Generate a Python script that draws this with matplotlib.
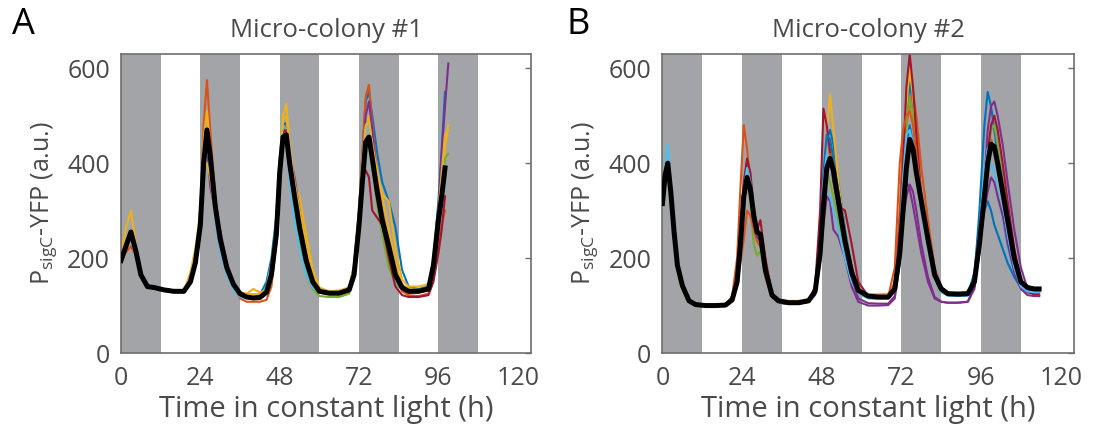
import numpy as np
import matplotlib
matplotlib.use("Agg")
import matplotlib.pyplot as plt

NA = np.nan

plt.rcParams["font.family"] = ["Open Sans", "DejaVu Sans"]
plt.rcParams["mathtext.fontset"] = "custom"
plt.rcParams["mathtext.rm"] = "Open Sans"
plt.rcParams["mathtext.it"] = "Open Sans:italic"

# subjective night intervals (h)
night_starts = [0, 24, 48, 72, 96]
night_len = 12

# ---- micro-colony #1 ----
t_a = [0, 1.5, 3, 4.5, 6, 8, 10, 13, 16, 19,
       21, 22.5, 24, 25, 26, 27, 28.5, 30, 32, 34,
       36, 38, 40, 42, 44, 45.5, 47, 48, 49, 50,
       51, 52.5, 54, 56, 58, 60, 63, 66, 69, 70.5,
       72, 73, 74, 75, 76, 77.5, 79, 81, 83, 85,
       87, 90, 93, 94.5, 96, 97, 98, 99]

mean_a = [195, 225, 255, 215, 165, 140, 138, 133, 130, 130,
          150, 190, 270, 400, 470, 415, 310, 240, 180, 145,
          125, 118, 116, 117, 128, 165, 250, 380, 455, 460,
          400, 330, 265, 195, 150, 130, 126, 126, 133, 165,
          270, 360, 445, 455, 410, 340, 280, 225, 165, 138,
          130, 130, 135, 185, 280, 330, 390, NA]

yellow_a = [205, 265, 300, 230, 160, 140, 138, 133, 130, 130,
            160, 210, 290, 450, 510, 430, 320, 245, 185, 148,
            128, 125, 135, 128, 130, 160, 245, 390, 500, 525,
            440, 350, 330, 250, 175, 138, 130, 132, 138, 170,
            280, 380, 470, 500, 450, 380, 335, 320, 220, 155,
            140, 140, 145, 190, 290, 360, 430, 480]

orange_a = [200, 212, 225, 205, 160, 140, 138, 133, 130, 130,
            155, 200, 300, 480, 575, 470, 330, 250, 180, 140,
            115, 108, 108, 108, 112, 140, 235, 380, 465, 480,
            420, 340, 270, 200, 150, 128, 124, 124, 130, 170,
            300, 420, 540, 565, 480, 380, 300, 230, 160, 130,
            122, 120, 125, 165, 230, 270, 300, NA]

blue_a = [NA, NA, NA, NA, NA, NA, NA, NA, NA, 130,
          150, 190, 265, 390, 455, 400, 300, 235, 178, 142,
          122, 118, 118, 122, 150, 200, 290, 410, 480, 485,
          420, 350, 295, 235, 170, 135, 128, 128, 138, 185,
          300, 420, 530, 550, 500, 420, 360, 320, 265, 175,
          140, 135, 140, 200, 320, 430, 550, NA]

purple_a = [NA, NA, NA, NA, NA, NA, NA, NA, NA, 130,
            150, 185, 260, 380, 440, 350, 300, 260, 190, 145,
            122, 116, 115, 116, 126, 160, 245, 380, 470, 470,
            420, 370, 300, 210, 155, 130, 125, 125, 130, 165,
            270, 380, 500, 530, 470, 360, 290, 230, 165, 135,
            128, 128, 132, 180, 300, 420, 520, 610]

green_a = [NA, NA, NA, NA, NA, NA, NA, NA, NA, 130,
           148, 185, 255, 380, 445, 390, 290, 225, 170, 138,
           120, 117, 116, 117, 125, 155, 235, 360, 445, 450,
           380, 300, 230, 165, 135, 120, 118, 118, 125, 155,
           250, 350, 420, 440, 390, 310, 250, 180, 145, 135,
           130, 130, 135, 175, 270, 340, 410, 420]

cyan_a = [NA, NA, NA, NA, NA, NA, NA, NA, NA, 130,
          148, 185, 260, 390, 460, 390, 280, 215, 165, 135,
          118, 116, 116, 120, 140, 190, 280, 400, 480, 470,
          360, 280, 220, 165, 138, 128, 125, 125, 132, 170,
          280, 390, 470, 480, 440, 360, 290, 215, 150, 135,
          130, 130, 134, 180, 270, 320, 360, NA]

red_a = [NA, NA, NA, NA, NA, NA, NA, NA, NA, 130,
         150, 188, 262, 395, 465, 400, 305, 238, 180, 145,
         122, 117, 116, 118, 128, 170, 260, 390, 465, 470,
         410, 330, 260, 190, 148, 130, 126, 126, 132, 170,
         290, 370, 385, 370, 300, 285, 270, 200, 140, 122,
         118, 118, 122, 150, 210, 260, 330, NA]

yellow2_a = [NA, NA, NA, NA, NA, NA, NA, NA, NA, 130,
             170, 220, 300, 390, 400, 370, 290, 235, 185, 148,
             128, 124, 124, 125, 135, 180, 270, 400, 490, 500,
             430, 360, 300, 230, 165, 135, 128, 130, 137, 185,
             300, 410, 480, 490, 440, 380, 330, 260, 190, 145,
             135, 133, 136, 190, 300, 380, 460, 470]

# ---- micro-colony #2 ----
t_b = [0, 0.8, 1.6, 2.5, 3.5, 4.5, 6, 8, 10, 13,
       16, 19, 21, 22.5, 23.5, 24.5, 25.5, 26.5, 27.5, 28.5,
       29.5, 31, 33, 35, 38, 41, 44, 46, 47.5, 48.5,
       49.5, 50.5, 51.5, 53, 55, 57, 59, 62, 65, 68,
       70, 71.5, 72.5, 73.5, 74.5, 75.5, 76.5, 78, 80, 82,
       84, 86, 89, 92, 94, 95.5, 97, 98, 99, 100,
       101, 102.5, 104, 106, 108, 110, 112, 113.5]

mean_b = [315, 375, 400, 340, 255, 185, 142, 110, 102, 100,
          100, 101, 112, 150, 230, 330, 370, 345, 290, 255,
          250, 175, 122, 110, 106, 106, 110, 130, 210, 310,
          390, 410, 385, 320, 235, 170, 132, 120, 118, 118,
          135, 210, 300, 390, 450, 430, 380, 320, 240, 165,
          135, 125, 124, 125, 150, 230, 330, 400, 440, 435,
          400, 340, 280, 200, 150, 138, 135, 135]

cyan_b = [320, 390, 440, 350, 260, 190, 145, 112, 103, 100,
          100, 101, 112, 148, 225, 320, 360, 340, 300, 265,
          240, 170, 120, 106, 104, 104, 108, 126, 220, 330,
          340, 330, 300, 260, 200, 150, 125, 115, 114, 114,
          130, 230, 350, 440, 470, 430, 370, 300, 220, 160,
          130, 122, 122, 124, 150, 240, 300, 380, 400, 380,
          340, 280, 220, 165, 135, 128, 128, 128]

orange_b = [NA, NA, NA, NA, NA, NA, NA, NA, NA, NA,
            NA, 101, 120, 200, 350, 480, 430, 350, 290, 250,
            230, 160, 118, 106, 104, 104, 108, 125, 200, 300,
            380, 430, 410, 340, 250, 175, 130, 118, 116, 116,
            150, 300, 460, 480, 520, 550, 500, 390, 280, 180,
            140, 128, 126, 127, 160, 250, 350, 420, 450, 430,
            400, 350, 290, 210, 155, 135, 130, 130]

orange2_b = [NA, NA, NA, NA, NA, NA, NA, NA, NA, NA,
             NA, 101, 112, 145, 190, 240, 300, 290, 260, 235,
             225, 170, 120, 107, 105, 105, 109, 128, 210, 320,
             400, 420, 400, 340, 250, 175, 132, 120, 118, 118,
             180, 400, 470, 500, 510, 480, 420, 330, 240, 165,
             134, 126, 125, 126, 150, 240, 350, 420, 440, 420,
             390, 340, 280, 205, 152, 136, 133, 133]

red_b = [NA, NA, NA, NA, NA, NA, NA, NA, NA, NA,
         NA, 101, 115, 160, 260, 360, 410, 380, 300, 260,
         280, 200, 125, 108, 106, 106, 110, 140, 300, 515,
         480, 420, 360, 310, 300, 230, 150, 120, 116, 116,
         140, 260, 400, 560, 630, 560, 460, 330, 230, 160,
         130, 122, 121, 122, 140, 210, 320, 420, 480, 500,
         470, 400, 320, 220, 150, 128, 124, 124]

yellow_b = [NA, NA, NA, NA, NA, NA, NA, NA, NA, NA,
            NA, 101, 114, 155, 240, 330, 380, 350, 280, 235,
            240, 180, 125, 112, 110, 110, 114, 135, 220, 330,
            460, 545, 470, 360, 250, 175, 135, 124, 124, 125,
            140, 240, 380, 520, 600, 540, 440, 330, 240, 165,
            135, 128, 128, 129, 150, 230, 320, 390, 430, 420,
            390, 330, 270, 200, 150, 138, 135, 135]

green_b = [NA, NA, NA, NA, NA, NA, NA, NA, NA, NA,
           NA, 101, 112, 150, 250, 350, 375, 320, 230, 205,
           215, 165, 120, 107, 105, 105, 109, 128, 215, 320,
           380, 360, 330, 280, 220, 160, 128, 118, 116, 116,
           132, 220, 360, 480, 540, 500, 420, 320, 230, 160,
           132, 124, 124, 125, 148, 230, 330, 410, 470, 480,
           440, 370, 290, 200, 148, 135, 132, 132]

blue_b = [NA, NA, NA, NA, NA, NA, NA, NA, NA, NA,
          NA, 101, 113, 152, 245, 350, 405, 370, 300, 260,
          245, 180, 122, 108, 106, 106, 110, 130, 230, 360,
          450, 470, 440, 360, 260, 180, 135, 120, 117, 117,
          135, 240, 380, 500, 570, 520, 430, 330, 240, 165,
          132, 124, 123, 124, 160, 300, 480, 550, 520, 470,
          420, 350, 280, 200, 150, 138, 136, 136]

blue2_b = [NA, NA, NA, NA, NA, NA, NA, NA, NA, NA,
           NA, 101, 112, 150, 245, 340, 380, 350, 290, 255,
           245, 180, 122, 108, 106, 106, 110, 132, 240, 380,
           460, 450, 410, 340, 250, 175, 132, 120, 117, 117,
           134, 230, 360, 440, 480, 440, 380, 300, 225, 160,
           130, 123, 122, 123, 170, 270, 300, 320, 300, 270,
           250, 220, 190, 160, 138, 130, 128, 128]

purple_b = [NA, NA, NA, NA, NA, NA, NA, NA, NA, NA,
            NA, 101, 112, 150, 245, 340, 370, 340, 280, 250,
            240, 175, 120, 106, 104, 104, 108, 122, 190, 270,
            330, 320, 260, 245, 200, 140, 108, 100, 100, 101,
            115, 190, 280, 330, 355, 340, 300, 230, 160, 118,
            108, 106, 106, 108, 135, 220, 360, 470, 520, 530,
            500, 440, 360, 260, 180, 135, 122, 120]

purple2_b = [NA, NA, NA, NA, NA, NA, NA, NA, NA, NA,
             NA, 101, 112, 150, 240, 330, 360, 330, 275, 245,
             235, 172, 119, 106, 104, 104, 108, 125, 210, 310,
             380, 400, 370, 310, 230, 160, 115, 105, 104, 104,
             120, 200, 300, 360, 345, 310, 270, 210, 150, 115,
             108, 106, 106, 108, 140, 230, 300, 340, 370, 360,
             330, 290, 230, 170, 135, 122, 120, 120]

cyan2_b = [NA, NA, NA, NA, NA, NA, NA, NA, NA, NA,
           NA, 101, 112, 150, 245, 345, 390, 360, 295, 255,
           240, 172, 120, 106, 104, 104, 108, 126, 225, 360,
           420, 410, 370, 310, 225, 160, 126, 116, 114, 114,
           134, 240, 370, 460, 470, 440, 380, 300, 220, 155,
           128, 121, 120, 121, 155, 260, 380, 430, 440, 420,
           380, 320, 250, 180, 140, 130, 128, 128]

# MATLAB default line colours
BLUE, ORANGE, YELLOW = "#0072BD", "#D95319", "#EDB120"
PURPLE, GREEN, CYAN, RED = "#7E2F8E", "#77AC30", "#4DBEEE", "#A2142F"

NIGHT = "#a2a4a7"
SPINE = "#6e6e6e"
TEXT = "#4a4a4a"

panels = [
    dict(letter="A", title="Micro-colony #1", t=t_a, mean=mean_a,
         traces=[(blue_a, BLUE), (orange_a, ORANGE), (yellow_a, YELLOW),
                 (purple_a, PURPLE), (green_a, GREEN), (cyan_a, CYAN),
                 (red_a, RED), (yellow2_a, YELLOW)],
         rect=[0.1107, 0.1995, 0.3751, 0.678], lx=0.011),
    dict(letter="B", title="Micro-colony #2", t=t_b, mean=mean_b,
         traces=[(blue_b, BLUE), (orange_b, ORANGE), (yellow_b, YELLOW),
                 (purple_b, PURPLE), (green_b, GREEN), (cyan_b, CYAN),
                 (red_b, RED), (blue2_b, BLUE), (orange2_b, ORANGE),
                 (purple2_b, PURPLE), (cyan2_b, CYAN)],
         rect=[0.6061, 0.1995, 0.3765, 0.678], lx=0.518),
]

fig = plt.figure(figsize=(10.93, 4.41), dpi=100)

for p in panels:
    ax = fig.add_axes(p["rect"])
    for s in night_starts:
        ax.axvspan(s, s + night_len, color=NIGHT, lw=0, zorder=0)
    for vals, col in p["traces"]:
        ax.plot(p["t"], vals, color=col, lw=1.5, zorder=2)
    ax.plot(p["t"], p["mean"], color="black", lw=3.6, zorder=3)

    ax.set_xlim(0, 124)
    ax.set_ylim(0, 630)
    ax.set_xticks([0, 24, 48, 72, 96, 120])
    ax.set_yticks([0, 200, 400, 600])
    ax.tick_params(axis="x", length=0, pad=9, labelsize=18, labelcolor=TEXT)
    ax.tick_params(axis="y", left=False, right=True, direction="in",
                   length=4, width=1, color=SPINE, pad=8,
                   labelsize=18, labelcolor=TEXT)
    for sp in ax.spines.values():
        sp.set_color(SPINE)
        sp.set_linewidth(1.2)

    ax.set_title(p["title"], fontsize=18.5, color=TEXT, pad=12)
    ax.set_xlabel("Time in constant light (h)", fontsize=21, color=TEXT, labelpad=3)
    ax.set_ylabel(r"P$_{\mathrm{sigC}}$-YFP (a.u.)", fontsize=18, color=TEXT, labelpad=6)
    fig.text(p["lx"], 0.985, p["letter"], fontsize=26, color="black",
             ha="left", va="top")

fig.savefig("out.png", dpi=100)
